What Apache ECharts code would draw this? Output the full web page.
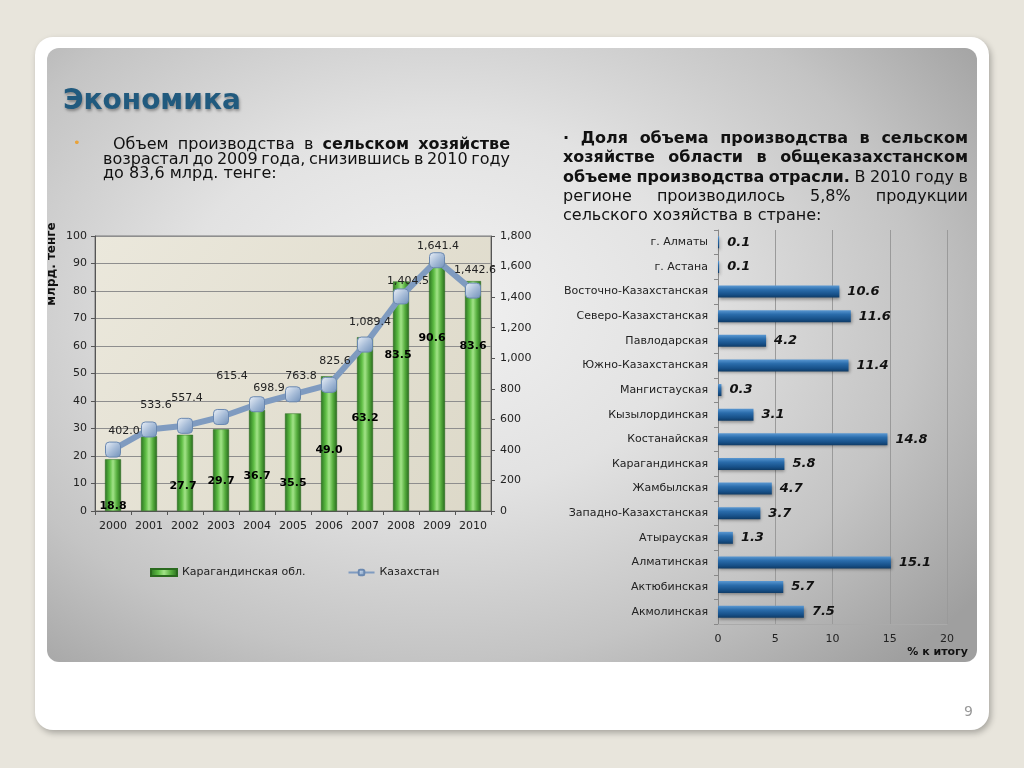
<!DOCTYPE html>
<html>
<head>
<meta charset="utf-8">
<script src="https://cdn.jsdelivr.net/npm/echarts@6/dist/echarts.min.js"></script>
<style>
  html, body { margin:0; padding:0; }
  body { width:1024px; height:768px; background:#E8E5DC; position:relative; overflow:hidden; font-family:"DejaVu Sans", Verdana, sans-serif; }
  #card { position:absolute; left:35px; top:37px; width:954px; height:693px; background:#fff; border-radius:18px; box-shadow:2px 3px 6px rgba(0,0,0,0.28); }
  #panel { position:absolute; left:47px; top:48px; width:930px; height:614px; border-radius:12px;
    background: radial-gradient(ellipse 72% 80% at 42% 42%, #f1f1f1 0%, #e2e2e2 38%, #c4c4c4 72%, #9f9f9f 100%); }
  #chart { position:absolute; left:0; top:0; width:1024px; height:768px; }
  .txt { position:absolute; color:#111; pointer-events:none; }
  #title { left:63px; top:83px; font-size:28px; font-weight:bold; color:#215A7E; line-height:34px; text-shadow:1px 2px 3px rgba(0,0,0,0.35); }
  .line { display:flex; justify-content:space-between; white-space:nowrap; }
  .line.left { justify-content:flex-start; }
  b { font-weight:bold; }
  #pnum { left:964px; top:703px; font-size:14px; color:#999; }
  #bullet { left:73px; top:135px; font-size:13px; color:#E9A33A; }
</style>
</head>
<body>
<div id="card"></div>
<div id="panel"></div>
<div id="chart"></div>
<div class="txt" id="title">Экономика</div>
<div class="txt" id="bullet">•</div>
<div class="txt" id="leftText" style="left:103px; top:137px; width:407px; font-size:16px; line-height:14.5px;"></div>
<div class="txt" id="rightText" style="left:563px; top:128px; width:405px; font-size:16px; line-height:19.3px;"></div>
<div class="txt" id="pnum">9</div>
<script>
// ---------- data ----------
const years = ['2000','2001','2002','2003','2004','2005','2006','2007','2008','2009','2010'];
const karagandaValues = [18.8, 27.2, 27.7, 29.7, 36.7, 35.5, 49.0, 63.2, 83.5, 90.6, 83.6];
const karagandaLabels = [18.8, null, 27.7, 29.7, 36.7, 35.5, 49.0, 63.2, 83.5, 90.6, 83.6];
const kazakhstanValues = [402.0, 533.6, 557.4, 615.4, 698.9, 763.8, 825.6, 1089.4, 1404.5, 1641.4, 1442.6];
const regions = ['г. Алматы','г. Астана','Восточно-Казахстанская','Северо-Казахстанская','Павлодарская','Южно-Казахстанская','Мангистауская','Кызылординская','Костанайская','Карагандинская','Жамбылская','Западно-Казахстанская','Атырауская','Алматинская','Актюбинская','Акмолинская'];
const regionShares = [0.1, 0.1, 10.6, 11.6, 4.2, 11.4, 0.3, 3.1, 14.8, 5.8, 4.7, 3.7, 1.3, 15.1, 5.7, 7.5];

// ---------- slide text ----------
const leftLines = [
  {indent:10, justify:true, segs:[['Объем производства в',false],['сельском хозяйстве',true]]},
  {justify:true, segs:[['возрастал до 2009 года, снизившись в 2010 году',false]]},
  {justify:false, segs:[['до 83,6 млрд. тенге:',false]]}
];
const rightLines = [
  {justify:true, segs:[['· Доля объема производства в сельском',true]]},
  {justify:true, segs:[['хозяйстве области в общеказахстанском',true]]},
  {justify:true, segs:[['объеме производства отрасли.',true],['В 2010 году в',false]]},
  {justify:true, segs:[['регионе производилось 5,8% продукции',false]]},
  {justify:false, segs:[['сельского хозяйства в стране:',false]]}
];
function buildLines(el, lines){
  lines.forEach(l=>{
    const d = document.createElement('div');
    d.className = 'line' + (l.justify ? '' : ' left');
    if (l.indent) d.style.paddingLeft = l.indent + 'px';
    l.segs.forEach(([t,bold])=>{
      t.split(' ').forEach(w=>{
        const s = document.createElement(bold ? 'b' : 'span');
        s.textContent = w;
        if(!l.justify) s.style.marginRight = '0.32em';
        d.appendChild(s);
      });
    });
    el.appendChild(d);
  });
}
buildLines(document.getElementById('leftText'), leftLines);
buildLines(document.getElementById('rightText'), rightLines);

// ---------- label placement styles ----------
const BAR_LABEL_OFFSET = [[0,1],[0,0],[-2,-19],[0,-24.5],[0,-29.5],[0,-22.5],[0,-55.5],[0,-87.5],[-3,-150.5],[-5,-167.5],[0,-159.5]];
const LINE_LABEL_OFFSET = [[11,-18],[7,-24],[2,-28],[11,-41],[12,-16],[8,-18],[6,-24],[5,-22],[7,-15],[1,-14],[2,-20]];

const fmt1 = v => v.toLocaleString('en-US',{minimumFractionDigits:1, maximumFractionDigits:1});
const FONT = '"DejaVu Sans", Verdana, sans-serif';

const chart = echarts.init(document.getElementById('chart'), null, {renderer:'canvas'});
const greenGrad = new echarts.graphic.LinearGradient(0,0,1,0,[
  {offset:0, color:'#2a7420'},{offset:0.3, color:'#5fbe45'},{offset:0.5, color:'#a2e388'},{offset:0.75, color:'#55ad3d'},{offset:1, color:'#286a1d'}]);
const blueGrad = new echarts.graphic.LinearGradient(0,0,0,1,[
  {offset:0, color:'#5a98d2'},{offset:0.35, color:'#2a6cab'},{offset:0.75, color:'#175088'},{offset:1, color:'#0f3b66'}]);
const markerGrad = new echarts.graphic.LinearGradient(0,0,1,1,[
  {offset:0, color:'#eef3f9'},{offset:0.5, color:'#a9bed9'},{offset:1, color:'#6f8fb8'}]);
const plotBg = new echarts.graphic.LinearGradient(0,0,1,1,[
  {offset:0, color:'#ebe8dc'},{offset:1, color:'#dcd8c8'}]);

chart.setOption({
  backgroundColor:'transparent',
  animation:false,
  textStyle:{fontFamily:FONT},
  grid:[
    {left:95, top:236, width:396, height:275, show:true, backgroundColor:plotBg, borderColor:'#7a7a7a', borderWidth:1},
    {left:718, top:230, width:229, height:394, show:false}
  ],
  legend:{
    left:145, top:562, itemGap:42, itemWidth:26, itemHeight:7,
    textStyle:{fontSize:11, color:'#222', fontFamily:FONT},
    data:[{name:'Карагандинская обл.', icon:'rect'}, {name:'Казахстан'}]
  },
  xAxis:[
    {type:'category', gridIndex:0, data:years, boundaryGap:true,
      axisLine:{lineStyle:{color:'#555'}}, axisTick:{show:true, length:4, lineStyle:{color:'#555'}},
      axisLabel:{interval:0, fontSize:11, color:'#222', margin:10, fontFamily:FONT}},
    {type:'value', gridIndex:1, min:0, max:20, interval:5,
      axisLine:{show:true, lineStyle:{color:'#aaa'}}, axisTick:{show:false},
      splitLine:{show:true, lineStyle:{color:'#9a9a9a'}},
      axisLabel:{fontSize:11, color:'#222', margin:10, fontFamily:FONT}}
  ],
  yAxis:[
    {type:'value', gridIndex:0, min:0, max:100, interval:10,
      axisLine:{show:true, lineStyle:{color:'#555'}}, axisTick:{show:true, length:4, lineStyle:{color:'#555'}},
      splitLine:{show:true, lineStyle:{color:'#8e8e8e'}},
      axisLabel:{fontSize:11, color:'#222', margin:8, fontFamily:FONT}},
    {type:'value', gridIndex:0, min:0, max:1800, interval:200, position:'right',
      axisLine:{show:true, lineStyle:{color:'#555'}}, axisTick:{show:true, length:4, lineStyle:{color:'#555'}},
      splitLine:{show:false},
      axisLabel:{fontSize:11, color:'#222', margin:9, fontFamily:FONT, formatter:v=>v.toLocaleString('en-US')}},
    {type:'category', gridIndex:1, data:regions, inverse:true,
      axisLine:{show:true, lineStyle:{color:'#888'}}, axisTick:{show:true, length:4, lineStyle:{color:'#888'}},
      axisLabel:{interval:0, fontSize:11, color:'#222', margin:10, fontFamily:FONT}}
  ],
  series:[
    {name:'Карагандинская обл.', type:'bar', xAxisIndex:0, yAxisIndex:0, barWidth:16,
      itemStyle:{color:greenGrad, borderColor:'#2a6a1e', borderWidth:0.5},
      label:{show:true, position:'insideBottom', distance:0, fontSize:11, fontWeight:'bold', color:'#000', fontFamily:FONT,
        formatter:p=> karagandaLabels[p.dataIndex]==null ? '' : karagandaLabels[p.dataIndex].toFixed(1)},
      data:karagandaValues.map((v,i)=>({value:v, label:{show:karagandaLabels[i]!=null, offset:BAR_LABEL_OFFSET[i]}})),
      z:2},
    {name:'Казахстан', type:'line', xAxisIndex:0, yAxisIndex:1,
      symbol:'roundRect', symbolSize:15,
      lineStyle:{color:'#7f9bc0', width:6},
      itemStyle:{color:markerGrad, borderColor:'#6a88b0', borderWidth:1},
      label:{show:true, position:'inside', fontSize:11, color:'#222', fontFamily:FONT, formatter:p=>fmt1(p.value)},
      data:kazakhstanValues.map((v,i)=>({value:v, label:{offset:LINE_LABEL_OFFSET[i]}})),
      z:5},
    {name:'share', type:'bar', xAxisIndex:1, yAxisIndex:2, barWidth:12,
      itemStyle:{color:blueGrad, shadowColor:'rgba(0,0,0,0.35)', shadowBlur:3, shadowOffsetX:1, shadowOffsetY:2},
      label:{show:true, position:'right', distance:8, fontSize:13, fontWeight:'bold', fontStyle:'italic', color:'#111', fontFamily:FONT,
        formatter:p=>p.value.toFixed(1)},
      data:regionShares}
  ],
  graphic:[
    {type:'text', x:52, y:264, rotation:Math.PI/2,
      style:{text:'млрд. тенге', fill:'#111', font:'bold 12px '+FONT, textAlign:'center', textVerticalAlign:'middle'}},
    {type:'text', x:968, y:652,
      style:{text:'% к итогу', fill:'#111', font:'bold 11px '+FONT, textAlign:'right', textVerticalAlign:'middle'}}
  ]
});
</script>
</body>
</html>
